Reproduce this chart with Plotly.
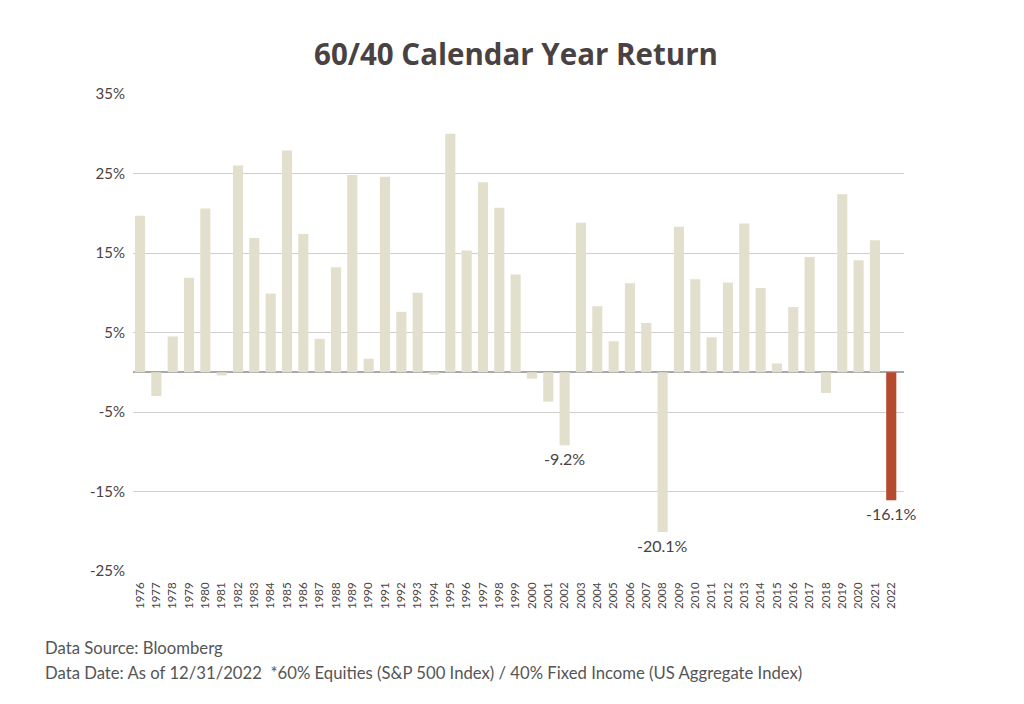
import plotly.graph_objects as go

years = [str(y) for y in range(1976, 2023)]
returns = [19.7, -3.0, 4.5, 11.9, 20.6, -0.4, 26.0, 16.9, 9.9, 27.9,
           17.4, 4.2, 13.2, 24.8, 1.7, 24.6, 7.6, 10.0, -0.3, 30.0,
           15.3, 23.9, 20.7, 12.3, -0.8, -3.7, -9.2, 18.8, 8.3, 3.9,
           11.2, 6.2, -20.1, 18.3, 11.7, 4.4, 11.3, 18.7, 10.6, 1.1,
           8.2, 14.5, -2.6, 22.4, 14.1, 16.6, -16.1]
highlight_year = "2022"
labeled_years = ["2002", "2008", "2022"]
y_ticks = [-25, -15, -5, 5, 15, 25, 35]

BEIGE = "#e3dfcd"
RED = "#b54a2e"
TEXT = "#4a4242"
FONT = "Lato, 'Open Sans', sans-serif"

colors = [RED if y == highlight_year else BEIGE for y in years]

fig = go.Figure(go.Bar(x=years, y=returns, marker_color=colors,
                       marker_line_width=0, width=0.62))

for yr in labeled_years:
    i = years.index(yr)
    v = returns[i]
    fig.add_annotation(x=i, y=v, text=f"{v:.1f}%", showarrow=False,
                       yanchor="top", yshift=-2,
                       font=dict(size=16, color=TEXT, family=FONT))

fig.add_annotation(text="Data Source: Bloomberg", xref="paper", yref="paper",
                   x=-0.1165, y=-0.1608, xanchor="left", yanchor="middle",
                   showarrow=False, font=dict(size=16.7, color="#555", family=FONT))
fig.add_annotation(text="Data Date: As of 12/31/2022  *60% Equities (S&P 500 Index) / 40% Fixed Income (US Aggregate Index)",
                   xref="paper", yref="paper", x=-0.1165, y=-0.2138, xanchor="left",
                   yanchor="middle", showarrow=False,
                   font=dict(size=16.7, color="#555", family=FONT))

fig.update_layout(
    width=1016, height=696,
    margin=dict(l=125, r=120, t=86, b=133),
    paper_bgcolor="white", plot_bgcolor="white",
    title=dict(text="<b>60/40 Calendar Year Return</b>", x=0.5, xanchor="center",
               y=0.9325, yanchor="middle",
               font=dict(size=29.5, color=TEXT, family="'Open Sans', sans-serif")),
    showlegend=False,
)
fig.update_xaxes(type="category", range=[-0.43, 46.78], tickangle=-90,
                 tickfont=dict(size=11.5, color=TEXT, family=FONT),
                 showgrid=False, showline=False, ticks="", ticklabelstandoff=8)
fig.update_yaxes(range=[-25, 35], tickvals=y_ticks,
                 ticktext=[f"{t}%" for t in y_ticks],
                 tickfont=dict(size=15, color=TEXT, family=FONT),
                 showgrid=True, gridcolor="#cfcfcf", gridwidth=1,
                 zeroline=True, zerolinecolor="#a8a8a8", zerolinewidth=1.5,
                 showline=False, ticks="", ticklabelstandoff=7)

fig.write_html("out.html")
